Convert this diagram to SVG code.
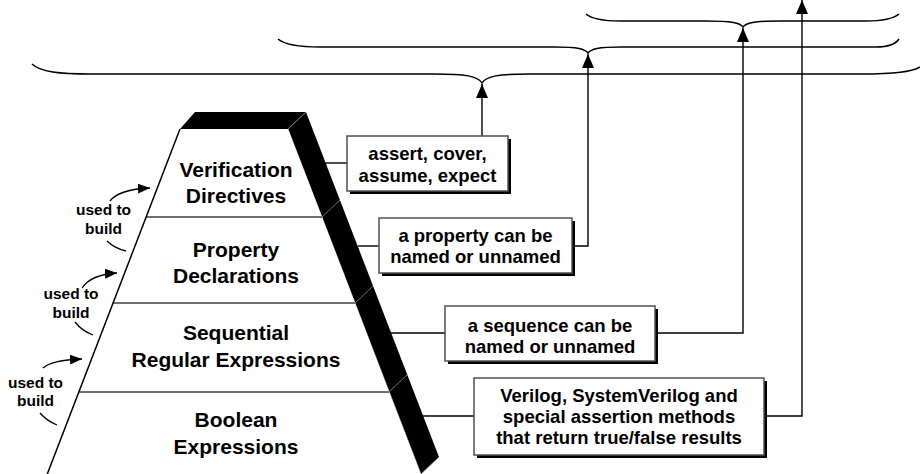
<svg xmlns="http://www.w3.org/2000/svg" width="920" height="474" viewBox="0 0 920 474">
<style>
text{font-family:"Liberation Sans",Arial,Helvetica,sans-serif;font-weight:bold;fill:#000;text-anchor:middle}
.layer{font-size:21px}
.box{font-size:18.5px}
.ub{font-size:15.5px}
.face{fill:#fff;stroke:none}
.div{stroke:#6e6e6e;stroke-width:2;fill:none}
.seam{stroke:#8a8a8a;stroke-width:0.8;fill:none}
.conn{stroke:#000;stroke-width:1.4;fill:none}
.brace{stroke:#000;stroke-width:1.5;fill:none}
.curve{stroke:#000;stroke-width:1.3;fill:none}
.bx{fill:#fff;stroke:#505050;stroke-width:1.5}
.sh{fill:#000}
</style>
<defs>
<marker id="headv" viewBox="0 0 14 12" refX="14" refY="6" markerWidth="14" markerHeight="12" markerUnits="userSpaceOnUse" orient="auto">
<path d="M0,0 L14,6 L0,12 z" fill="#000"/>
</marker>
<marker id="headc" viewBox="0 0 12 10" refX="12" refY="5" markerWidth="12" markerHeight="10" markerUnits="userSpaceOnUse" orient="auto">
<path d="M0,0 L12,5 L0,10 z" fill="#000"/>
</marker>
</defs>

<g id="braces">
<path class="brace" d="M32,64 C40,72 60,74 90,74 L435,74 C465,74 478,76 482,83 C486,76 499,74 529,74 L860,74 C895,74 912,72 922,66"/>
<path class="brace" d="M278,39 C285,45 300,47 320,47 L555,47 C578,47 585,49 588,53 C591,49 598,47 621,47 L876,47 C888,47 895,45 899,39"/>
<path class="brace" d="M586,14 C592,19 605,21 620,21 L705,21 C733,21 740,23 743,27 C746,23 753,21 781,21 L866,21 C881,21 893,19 899,14"/>
</g>

<g id="pyramid">
<polygon points="180,129 195,112 306,112 288,129" fill="#000"/>
<polygon points="288,129 306,112 439,457 421,474" fill="#000"/>
<line class="seam" x1="288" y1="129" x2="306" y2="112"/>
<line class="seam" x1="288" y1="129" x2="421" y2="474"/>
<line class="seam" x1="421" y1="474" x2="439" y2="457"/>
<line class="seam" x1="322" y1="217" x2="340" y2="200"/>
<line class="seam" x1="355" y1="303" x2="373" y2="286"/>
<line class="seam" x1="389" y1="392" x2="407" y2="375"/>
</g>

<g id="layer-verification">
<polygon class="face" points="180,129 288,129 322,217 146,217"/>
<text class="layer" x="236" y="177">Verification</text>
<text class="layer" x="236" y="203">Directives</text>
</g>
<g id="layer-property">
<polygon class="face" points="146,217 322,217 355,303 113,303"/>
<text class="layer" x="236" y="257">Property</text>
<text class="layer" x="236" y="283">Declarations</text>
</g>
<g id="layer-sequential">
<polygon class="face" points="113,303 355,303 389,392 79,392"/>
<text class="layer" x="236" y="340">Sequential</text>
<text class="layer" x="236" y="367">Regular Expressions</text>
</g>
<g id="layer-boolean">
<polygon class="face" points="79,392 389,392 423,480 45,480"/>
<text class="layer" x="236" y="427">Boolean</text>
<text class="layer" x="236" y="454">Expressions</text>
</g>
<g id="pyramid-lines">
<line class="div" x1="146" y1="217" x2="322" y2="217"/>
<line class="div" x1="113" y1="303" x2="355" y2="303"/>
<line class="div" x1="79" y1="392" x2="389" y2="392"/>
<line x1="180" y1="129" x2="45" y2="480" stroke="#000" stroke-width="1.5"/>
</g>

<g id="used-to-build-1">
<path class="curve" d="M110,201 C116,193 128,189 150,188" marker-end="url(#headc)"/>
<path class="curve" d="M107,241 Q114,248 126,251"/>
<text class="ub" x="103.5" y="215">used to</text>
<text class="ub" x="103.5" y="234">build</text>
</g>
<g id="used-to-build-2">
<path class="curve" d="M82,288 C88,279 100,274 117,273" marker-end="url(#headc)"/>
<path class="curve" d="M75,322 Q82,331 93,335"/>
<text class="ub" x="71" y="299">used to</text>
<text class="ub" x="71" y="318">build</text>
</g>
<g id="used-to-build-3">
<path class="curve" d="M43,368 C50,362 62,360 82,359" marker-end="url(#headc)"/>
<path class="curve" d="M40,413 Q47,421 57,425"/>
<text class="ub" x="35.5" y="388">used to</text>
<text class="ub" x="35.5" y="406">build</text>
</g>

<g id="connectors">
<path class="conn" d="M325,163 H347"/>
<path class="conn" d="M482,136 V84" marker-end="url(#headv)"/>
<path class="conn" d="M358,246 H379"/>
<path class="conn" d="M572,246 H588 V54" marker-end="url(#headv)"/>
<path class="conn" d="M391,333 H445"/>
<path class="conn" d="M655,333 H743 V28" marker-end="url(#headv)"/>
<path class="conn" d="M423,416 H474"/>
<path class="conn" d="M764,416 H802 V0" marker-end="url(#headv)"/>
</g>

<g id="box-directives">
<rect class="sh" x="350" y="139" width="161" height="55"/>
<rect class="bx" x="347" y="136" width="161" height="55"/>
<text class="box" x="427.5" y="160">assert, cover,</text>
<text class="box" x="427.5" y="182">assume, expect</text>
</g>
<g id="box-property">
<rect class="sh" x="382" y="221" width="193" height="55"/>
<rect class="bx" x="379" y="218" width="193" height="55"/>
<text class="box" x="475.5" y="242">a property can be</text>
<text class="box" x="475.5" y="263">named or unnamed</text>
</g>
<g id="box-sequence">
<rect class="sh" x="448" y="309" width="210" height="55"/>
<rect class="bx" x="445" y="306" width="210" height="55"/>
<text class="box" x="550" y="332">a sequence can be</text>
<text class="box" x="550" y="353">named or unnamed</text>
</g>
<g id="box-boolean">
<rect class="sh" x="477" y="381" width="290" height="77"/>
<rect class="bx" x="474" y="378" width="290" height="77"/>
<text class="box" x="619" y="402">Verilog, SystemVerilog and</text>
<text class="box" x="619" y="423">special assertion methods</text>
<text class="box" x="619" y="444">that return true/false results</text>
</g>
</svg>
